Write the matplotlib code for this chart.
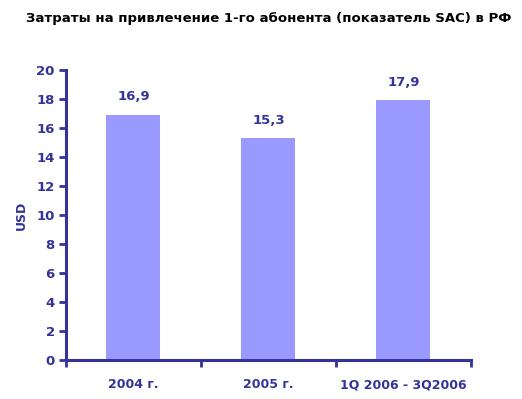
import numpy as np
import matplotlib.pyplot as plt

periods = ['2004 г.', '2005 г.', '1Q 2006 - 3Q2006']
sac = [16.9, 15.3, 17.9]
value_labels = ['16,9', '15,3', '17,9']

navy = '#333399'
bar_color = '#9999FF'

plt.rcParams['font.family'] = ['DejaVu Sans']
plt.rcParams['font.weight'] = 'bold'

fig = plt.figure(figsize=(5.22, 3.99), dpi=100)
ax = fig.add_axes([0.1264, 0.0977, 0.7759, 0.7269])

x = np.arange(len(periods))
ax.bar(x, sac, width=0.4, color=bar_color, zorder=2)
for xi, v, lab in zip(x, sac, value_labels):
    ax.text(xi, v + 0.8, lab, ha='center', va='bottom', color=navy,
            fontsize=9.5, fontweight='bold')

ax.set_xlim(-0.5, len(periods) - 0.5)
ax.set_ylim(0, 20)
ax.set_yticks(np.arange(0, 21, 2))
ax.set_xticks(x)
ax.set_xticklabels(periods)
ax.set_xticks(np.arange(-0.5, len(periods), 1), minor=True)
ax.tick_params(axis='x', which='major', length=0, pad=13, labelsize=9, labelcolor=navy)
ax.tick_params(axis='x', which='minor', length=5, width=2, color=navy, direction='out')
ax.tick_params(axis='y', length=5, width=2, color=navy, labelsize=9.5, labelcolor=navy, pad=3)

for s in ['top', 'right']:
    ax.spines[s].set_visible(False)
for s in ['left', 'bottom']:
    ax.spines[s].set_color(navy)
    ax.spines[s].set_linewidth(2.2)

ax.set_ylabel('USD', color=navy, fontsize=9, fontweight='bold', labelpad=6)
fig.suptitle('Затраты на привлечение 1-го абонента (показатель SAC) в РФ',
             x=0.515, y=0.97, fontsize=9.5, fontweight='bold', color='black')

fig.savefig('out.png', dpi=100)
